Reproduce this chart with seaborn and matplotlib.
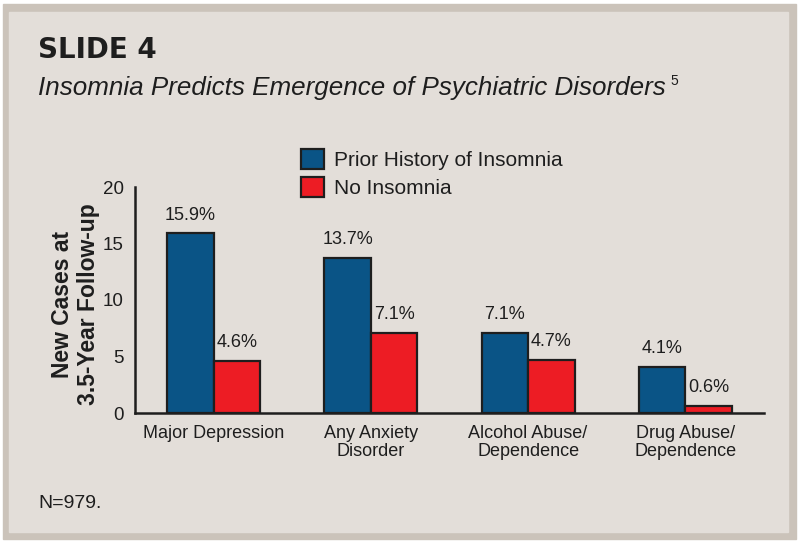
import pandas as pd
import matplotlib.pyplot as plt
import seaborn as sns
from matplotlib.patches import Rectangle, Patch

# data
categories = ["Major Depression", "Any Anxiety\nDisorder", "Alcohol Abuse/\nDependence", "Drug Abuse/\nDependence"]
insomnia = [15.9, 13.7, 7.1, 4.1]
no_insomnia = [4.6, 7.1, 4.7, 0.6]
groups = ["Prior History of Insomnia", "No Insomnia"]
colors = ["#0a5486", "#ed1c24"]
yticks = [0, 5, 10, 15, 20]

PANEL = "#e3ded9"
BORDER = "#cbc3ba"
INK = "#1e1e1e"
FONT = ["Liberation Sans", "DejaVu Sans"]

df = pd.DataFrame({
    "Category": categories * 2,
    "Group": [groups[0]] * 4 + [groups[1]] * 4,
    "Value": insomnia + no_insomnia,
})

sns.set_style("white")
plt.rcParams["font.family"] = FONT

fig = plt.figure(figsize=(8, 5.44), dpi=100, facecolor="white")
fig.patches.append(Rectangle((3 / 800, 5 / 544), 793 / 800, 535 / 544,
                             transform=fig.transFigure, color=BORDER, zorder=-2))
fig.patches.append(Rectangle((9 / 800, 12 / 544), 779 / 800, 520 / 544,
                             transform=fig.transFigure, color=PANEL, zorder=-1))

ax = fig.add_axes([135 / 800, 1 - 413 / 544, 629 / 800, 226 / 544])
ax.set_facecolor("none")

sns.barplot(data=df, x="Category", y="Value", hue="Group", palette=colors,
            saturation=1, width=0.59, gap=0, edgecolor=INK, linewidth=1.6,
            legend=False, ax=ax)

# value labels above bars
for cont, vals in zip(ax.containers, [insomnia, no_insomnia]):
    ax.bar_label(cont, labels=[f"{v}%" for v in vals], padding=7,
                 fontsize=13, color=INK)

ax.set_ylim(0, 20)
ax.set_xlim(-0.5, 3.5)
ax.set_yticks(yticks)
ax.set_yticklabels([str(t) for t in yticks], fontsize=13.5, color=INK)
ax.set_xticks([0, 1, 2, 3])
ax.set_xticklabels(categories, fontsize=13, color=INK, linespacing=1.05)
ax.tick_params(axis="x", length=0, pad=9)
ax.set_xticks([-0.5, 0.5, 1.5, 2.5, 3.5], minor=True)
ax.tick_params(axis="x", which="minor", length=6, width=1.6, color=INK, direction="out")
ax.tick_params(axis="y", length=5, width=1.6, color=INK, direction="out", pad=3)

for side in ["top", "right"]:
    ax.spines[side].set_visible(False)
for side in ["left", "bottom"]:
    ax.spines[side].set_linewidth(1.8)
    ax.spines[side].set_color(INK)

ax.set_xlabel("")
ax.set_ylabel("New Cases at\n3.5-Year Follow-up", fontsize=16.5, fontweight="bold",
              color=INK, linespacing=1.15)
ax.yaxis.set_label_coords(-0.056, 0.48)

handles = [Patch(facecolor=c, edgecolor=INK, linewidth=1.6) for c in colors]
fig.legend(handles, groups, loc="upper left", bbox_to_anchor=(282 / 800, 1 - 130 / 544),
           frameon=False, fontsize=15, handlelength=1.1, handleheight=1.1,
           handletextpad=0.5, labelspacing=0.35, labelcolor=INK)

fig.text(38 / 800, 1 - 50 / 544, "SLIDE 4", fontsize=20, fontweight="heavy",
         family="DejaVu Sans", color=INK, va="center")
title = fig.text(38 / 800, 1 - 88 / 544, "Insomnia Predicts Emergence of Psychiatric Disorders",
                 fontsize=18.7, style="italic", color=INK, va="center")
fig.canvas.draw()
bb = title.get_window_extent()
fig.text((bb.x1 + 5) / 800, 1 - 81 / 544, "5", fontsize=10, color=INK, va="center")
fig.text(38 / 800, 1 - 503 / 544, "N=979.", fontsize=14, color=INK, va="center")

fig.savefig("out.png", dpi=100, facecolor="white")
